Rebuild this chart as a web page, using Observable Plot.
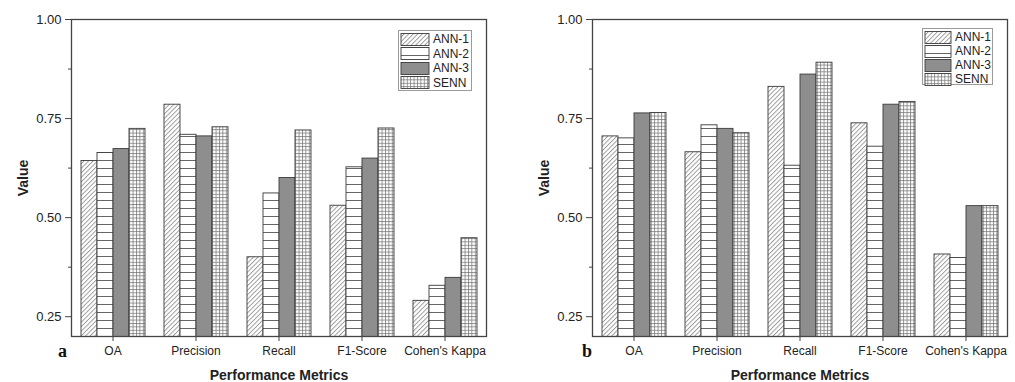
<!DOCTYPE html>
<html><head><meta charset="utf-8">
<script src="https://cdn.jsdelivr.net/npm/d3@7"></script>
<script src="https://cdn.jsdelivr.net/npm/@observablehq/plot@0.6"></script>
<style>
body{margin:0;background:#fff;font-family:"Liberation Sans",Arial,sans-serif;}
#wrap{position:relative;width:1015px;height:382px;overflow:hidden;}
.panel{position:absolute;top:0;}
.legend{position:absolute;border:1px solid #9a9a9a;background:#fff;font-size:12px;color:#222;box-sizing:border-box;}
.legend .row{display:flex;align-items:center;}
.legend svg{display:block;}
.letter{position:absolute;font-family:"Liberation Serif","DejaVu Serif",serif;font-weight:bold;font-size:18px;line-height:18px;color:#111;}
g[aria-label$="axis label"] text{font-weight:bold;font-size:14px;}
</style></head>
<body>
<svg width="0" height="0" style="position:absolute">
  <defs>
    <pattern id="pHatch" patternUnits="userSpaceOnUse" width="3.2" height="3.2" patternTransform="rotate(45)">
      <rect width="3.2" height="3.2" fill="#fff"/>
      <line x1="0.5" y1="0" x2="0.5" y2="3.2" stroke="#888" stroke-width="0.8"/>
    </pattern>
    <pattern id="pHoriz" patternUnits="userSpaceOnUse" width="8" height="8">
      <rect width="8" height="8" fill="#fff"/>
      <line x1="0" y1="0.5" x2="8" y2="0.5" stroke="#555" stroke-width="0.9"/>
    </pattern>
    <pattern id="pGrid" patternUnits="userSpaceOnUse" width="3.4" height="3.4">
      <rect width="3.4" height="3.4" fill="#fff"/>
      <line x1="0.5" y1="0" x2="0.5" y2="3.4" stroke="#6a6a6a" stroke-width="0.7"/>
      <line x1="0" y1="0.5" x2="3.4" y2="0.5" stroke="#6a6a6a" stroke-width="0.7"/>
    </pattern>
  </defs>
</svg>
<div id="wrap"></div>
<script>
const metrics = ["OA", "Precision", "Recall", "F1-Score", "Cohen's Kappa"];
const models = ["ANN-1", "ANN-2", "ANN-3", "SENN"];
const yTicks = [0.25, 0.50, 0.75, 1.00];
const yMinorTicks = [0.375, 0.625, 0.875];
const yDomain = [0.2, 1.0];

// Panel a
const a_ANN1 = [0.643, 0.785, 0.400, 0.530, 0.290];
const a_ANN2 = [0.663, 0.709, 0.561, 0.627, 0.328];
const a_ANN3 = [0.673, 0.705, 0.600, 0.649, 0.348];
const a_SENN = [0.724, 0.728, 0.720, 0.725, 0.448];
// Panel b
const b_ANN1 = [0.705, 0.665, 0.830, 0.738, 0.407];
const b_ANN2 = [0.700, 0.733, 0.631, 0.679, 0.398];
const b_ANN3 = [0.763, 0.724, 0.861, 0.785, 0.529];
const b_SENN = [0.764, 0.713, 0.891, 0.792, 0.529];

const fills = ["url(#pHatch)", "url(#pHoriz)", "#8e8e8e", "url(#pGrid)"];

function rows(series) {
  return metrics.flatMap((m, i) => models.map((mod, j) => ({metric: m, model: mod, value: series[j][i]})));
}

function panel(data, cfg) {
  return Plot.plot({
    width: cfg.width, height: 382,
    marginTop: 19, marginBottom: 46, marginLeft: cfg.marginLeft, marginRight: cfg.marginRight,
    style: {fontFamily: "'Liberation Sans', Arial, sans-serif", fontSize: "12px", color: "#222", background: "white", overflow: "visible"},
    fx: {domain: metrics, padding: 0},
    x: {domain: models, paddingInner: 0, paddingOuter: 0.48, axis: null},
    y: {domain: yDomain},
    color: {domain: models, range: fills},
    marks: [
      Plot.barY(data, {fx: "metric", x: "model", y: "value", fill: "model", stroke: "#3a3a3a", strokeWidth: 0.9, clip: true}),
      Plot.frame({facet: "super", stroke: "#444", strokeWidth: 1.3}),
      Plot.axisY(yTicks, {tickSize: 6, tickPadding: 4, fontSize: 13, tickFormat: d3.format(".2f"), label: "Value", labelArrow: "none", labelAnchor: "center", labelOffset: 53, stroke: "#444"}),
      Plot.axisY(yMinorTicks, {tickSize: 3, tickFormat: () => "", label: null, stroke: "#444"}),
      Plot.axisFx({anchor: "bottom", tickSize: 5, tickPadding: 5, label: "Performance Metrics", labelArrow: "none", labelAnchor: "center", labelOffset: 43, stroke: "#444"})
    ]
  });
}

function legend(cfg) {
  const div = document.createElement("div");
  div.className = "legend";
  Object.assign(div.style, {left: cfg.left + "px", top: cfg.top + "px", width: cfg.w + "px", height: cfg.h + "px", paddingTop: "1px", paddingLeft: "1px"});
  models.forEach((m, i) => {
    const row = document.createElement("div");
    row.className = "row";
    row.style.height = cfg.rowH + "px";
    row.innerHTML = `<svg width="${cfg.sw + 2}" height="13"><rect x="1" y="0.5" width="${cfg.sw}" height="12" fill="${fills[i]}" stroke="#3a3a3a" stroke-width="0.9"/></svg><span style="margin-left:3px">${m}</span>`;
    div.appendChild(row);
  });
  return div;
}

const wrap = document.getElementById("wrap");
const pa = panel(rows([a_ANN1, a_ANN2, a_ANN3, a_SENN]), {width: 507, marginLeft: 71, marginRight: 21});
pa.classList.add("panel"); pa.style.left = "0px";
const pb = panel(rows([b_ANN1, b_ANN2, b_ANN3, b_SENN]), {width: 508, marginLeft: 84, marginRight: 8});
pb.classList.add("panel"); pb.style.left = "507px";
wrap.appendChild(pa); wrap.appendChild(pb);
wrap.appendChild(legend({left: 398, top: 30, w: 74, h: 61, rowH: 14.5, sw: 28}));
wrap.appendChild(legend({left: 922, top: 28, w: 71, h: 57, rowH: 14, sw: 26}));
const la = document.createElement("div"); la.className = "letter"; la.textContent = "a"; la.style.left = "58px"; la.style.top = "342px"; wrap.appendChild(la);
const lb = document.createElement("div"); lb.className = "letter"; lb.textContent = "b"; lb.style.left = "582px"; lb.style.top = "342px"; wrap.appendChild(lb);
</script>
</body></html>
